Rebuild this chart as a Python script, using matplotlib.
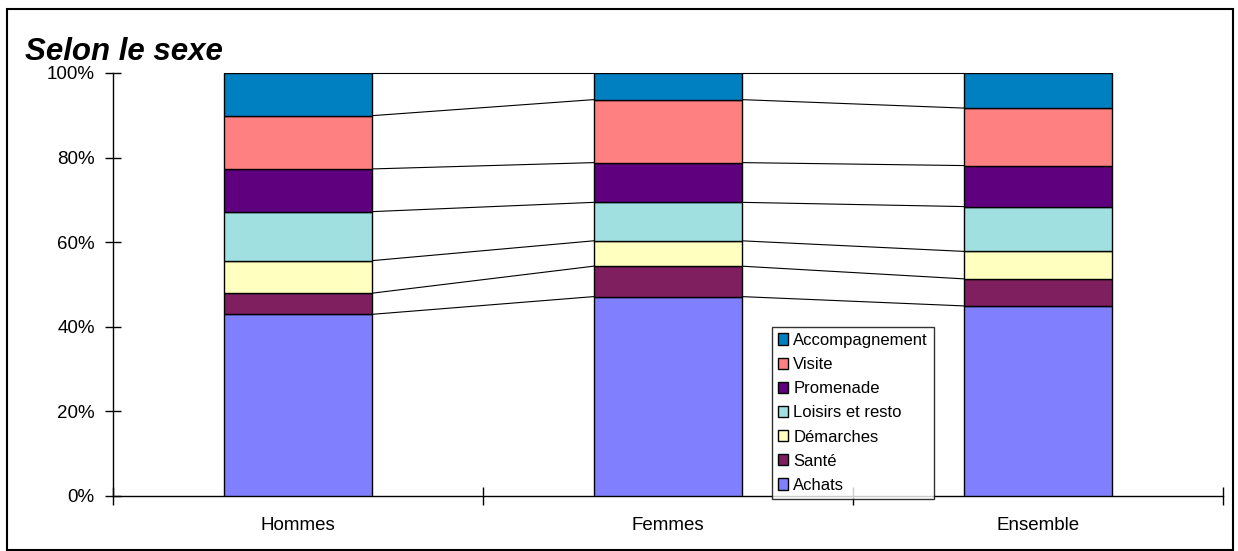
import numpy as np
import matplotlib
matplotlib.use('Agg')
import matplotlib.pyplot as plt
from matplotlib.patches import Rectangle
from matplotlib.ticker import FixedLocator, PercentFormatter

plt.rcParams['font.family'] = ['Liberation Sans', 'DejaVu Sans']

# Données (pourcentages)
groupes = ['Hommes', 'Femmes', 'Ensemble']
categories = ['Achats', 'Santé', 'Démarches', 'Loisirs et resto',
              'Promenade', 'Visite', 'Accompagnement']
achats = [42.9, 47.1, 44.9]
sante = [5.0, 7.2, 6.4]
demarches = [7.7, 6.0, 6.5]
loisirs = [11.6, 9.1, 10.6]
promenade = [10.1, 9.4, 9.7]
visite = [12.6, 14.9, 13.6]
accompagnement = [10.1, 6.3, 8.3]

couleurs = ['#8080FF', '#7F1F5F', '#FFFFC0', '#A0E0E0',
            '#5F007F', '#FF8080', '#0080C0']

series = [achats, sante, demarches, loisirs, promenade, visite, accompagnement]

fig = plt.figure(figsize=(12.38, 5.51), dpi=100)
ax = fig.add_axes([112.7 / 1238, 1 - 495.7 / 551,
                   1110 / 1238, 422.7 / 551])

x = np.arange(len(groupes))
largeur = 0.4
bas = np.zeros(len(groupes))
cumuls = []
for vals, nom, c in zip(series, categories, couleurs):
    vals = np.array(vals, dtype=float)
    ax.bar(x, vals, largeur, bottom=bas, color=c, edgecolor='black',
           linewidth=1.0, label=nom, zorder=3)
    bas = bas + vals
    cumuls.append(bas.copy())

# lignes de séries entre les barres
for cum in cumuls:
    for i in range(len(groupes) - 1):
        ax.plot([x[i] + largeur / 2, x[i + 1] - largeur / 2],
                [cum[i], cum[i + 1]], color='black', linewidth=0.8,
                zorder=2, clip_on=False)

ax.set_xlim(-0.5, 2.5)
ax.set_ylim(0, 100)
ax.spines['top'].set_visible(False)
ax.spines['right'].set_visible(False)
ax.spines['left'].set_linewidth(1.0)
ax.spines['bottom'].set_linewidth(1.0)

ax.set_yticks([0, 20, 40, 60, 80, 100])
ax.yaxis.set_major_formatter(PercentFormatter(decimals=0))
ax.tick_params(axis='y', direction='inout', length=12, width=1.0,
               labelsize=13.5, pad=7)

ax.set_xticks(x)
ax.set_xticklabels(groupes)
ax.tick_params(axis='x', which='major', length=0, labelsize=13.5, pad=15)
ax.xaxis.set_minor_locator(FixedLocator([-0.5, 0.5, 1.5, 2.5]))
ax.tick_params(axis='x', which='minor', direction='inout', length=13,
               width=1.0)

handles, labels = ax.get_legend_handles_labels()
leg = ax.legend(handles[::-1], labels[::-1], loc='upper left',
                bbox_to_anchor=(771.7 / 1238, 1 - 327 / 551),
                bbox_transform=fig.transFigure, borderaxespad=0,
                fontsize=12, frameon=True, fancybox=False,
                edgecolor='black', handlelength=0.65, handleheight=0.65,
                handletextpad=0.3, labelspacing=0.55, borderpad=0.35)
leg.get_frame().set_linewidth(1.0)
leg.set_zorder(5)

fig.text(25 / 1238, 1 - 60 / 551, 'Selon le sexe', fontsize=22.5,
         fontweight='bold', fontstyle='italic', va='baseline', ha='left')

fig.patches.append(Rectangle((7 / 1238, 1 / 551), 1226 / 1238,
                             541 / 551, transform=fig.transFigure,
                             fill=False, edgecolor='black', linewidth=1.5))

fig.savefig('out.png', dpi=100)
